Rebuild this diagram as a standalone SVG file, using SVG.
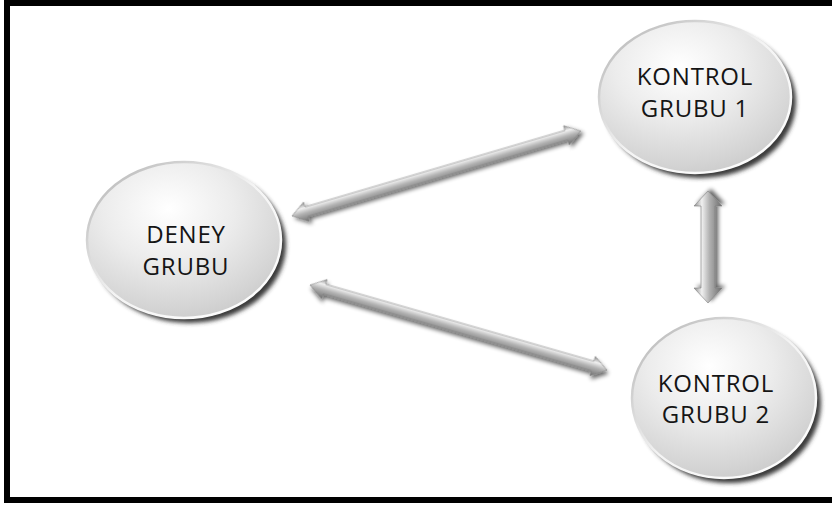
<svg xmlns="http://www.w3.org/2000/svg" width="832" height="506" viewBox="0 0 832 506">
  <defs>
    <radialGradient id="ballFill" cx="0.42" cy="0.3" r="0.75">
      <stop offset="0" stop-color="#ffffff"/>
      <stop offset="0.45" stop-color="#ececec"/>
      <stop offset="0.85" stop-color="#d4d4d4"/>
      <stop offset="1" stop-color="#cacaca"/>
    </radialGradient>
    <linearGradient id="rimLight" x1="0" y1="0" x2="1" y2="1">
      <stop offset="0" stop-color="#b0b0b0"/>
      <stop offset="0.5" stop-color="#f4f4f4"/>
      <stop offset="1" stop-color="#ffffff"/>
    </linearGradient>
    <linearGradient id="arrowFill" x1="0" y1="0" x2="0" y2="1">
      <stop offset="0" stop-color="#8e8e8e"/>
      <stop offset="0.28" stop-color="#f0f0f0"/>
      <stop offset="0.55" stop-color="#b2b2b2"/>
      <stop offset="1" stop-color="#6e6e6e"/>
    </linearGradient>
    <filter id="soft" x="-20%" y="-20%" width="140%" height="140%">
      <feGaussianBlur stdDeviation="2"/>
    </filter>
    <filter id="arrowShadow" x="-10%" y="-60%" width="120%" height="220%">
      <feGaussianBlur in="SourceAlpha" stdDeviation="2"/>
      <feOffset dx="2" dy="3" result="b"/>
      <feComponentTransfer><feFuncA type="linear" slope="0.6"/></feComponentTransfer>
      <feMerge><feMergeNode/><feMergeNode in="SourceGraphic"/></feMerge>
    </filter>
    <style>
      .shade { fill: #3a3a3a; filter: url(#soft); }
      .ball { fill: url(#ballFill); stroke: url(#rimLight); stroke-width: 2.5; }
      .label { font-family: "Open Sans", "DejaVu Sans", sans-serif; font-size: 24px; letter-spacing: 0.8px; fill: #151515; text-anchor: middle; }
      .arrow { fill: url(#arrowFill); stroke: #7e7e7e; stroke-width: 0.6; filter: url(#arrowShadow); }
    </style>
  </defs>

  <rect width="832" height="506" fill="#ffffff"/>
  <!-- frame (left, top, bottom edges) -->
  <path d="M832 3 H7 V500 H832" fill="none" stroke="#000000" stroke-width="6"/>

  <g id="connectors">
    <!-- DENEY <-> KONTROL 1 -->
    <polygon class="arrow" transform="translate(292,216) rotate(-16.4)" points="0,0 15,-10 15,-5 286,-5 286,-10 301,0 286,10 286,5 15,5 15,10"/>
    <!-- DENEY <-> KONTROL 2 -->
    <polygon class="arrow" transform="translate(310,285) rotate(16)" points="0,0 15,-10 15,-5 294,-5 294,-10 309,0 294,10 294,5 15,5 15,10"/>
    <!-- KONTROL 1 <-> KONTROL 2 -->
    <polygon class="arrow" transform="translate(708,303) rotate(-90)" points="0,0 15,-14 15,-7 97,-7 97,-14 112,0 97,14 97,7 15,7 15,14"/>
  </g>

  <g id="deney">
    <ellipse class="shade" cx="189" cy="245" rx="97" ry="78"/>
    <ellipse class="ball" cx="184" cy="240" rx="97" ry="78"/>
    <text class="label" x="186" y="243">DENEY</text>
    <text class="label" x="186" y="275">GRUBU</text>
  </g>

  <g id="kontrol1">
    <ellipse class="shade" cx="700" cy="102" rx="96" ry="76"/>
    <ellipse class="ball" cx="695" cy="97" rx="96" ry="76"/>
    <text class="label" x="695" y="85">KONTROL</text>
    <text class="label" x="695" y="117">GRUBU 1</text>
  </g>

  <g id="kontrol2">
    <ellipse class="shade" cx="729" cy="403" rx="92" ry="80"/>
    <ellipse class="ball" cx="724" cy="398" rx="92" ry="80"/>
    <text class="label" x="716" y="392">KONTROL</text>
    <text class="label" x="716" y="423">GRUBU 2</text>
  </g>
</svg>
